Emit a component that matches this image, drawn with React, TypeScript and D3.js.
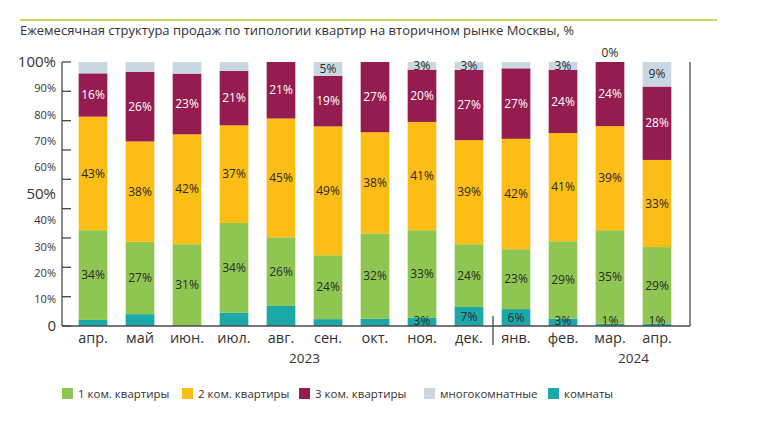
import React from 'react';
import * as d3 from 'd3';

const months = ['апр.', 'май', 'июн.', 'июл.', 'авг.', 'сен.', 'окт.', 'ноя.', 'дек.', 'янв.', 'фев.', 'мар.', 'апр.'];
const rooms = [2.3, 4.5, 0, 5, 7.6, 2.6, 2.7, 3.1, 7.2, 6.4, 2.8, 0.9, 0.9];
const oneRoom = [34, 27.4, 31, 34, 26, 24.2, 32.4, 33.2, 23.8, 22.7, 29.3, 35.4, 29];
const twoRoom = [43, 38, 41.6, 37, 45, 48.8, 38.3, 41, 39.4, 41.8, 41, 39.4, 33];
const threeRoom = [16.4, 26.4, 23, 20.6, 21.4, 19.2, 26.6, 19.8, 26.6, 26.7, 24, 24.3, 27.8];
const multiRoom = [4.3, 3.7, 4.4, 3.4, 0, 5.2, 0, 2.9, 3.0, 2.4, 2.9, 0, 9.3];
const roomsLabelled = [7, 8, 9, 10, 11, 12];
const multiLabelled = [5, 7, 8, 10, 11, 12];
const yTickLabels = [100, 90, 80, 70, 60, 50, 40, 30, 20, 10, 0];
const bigTickLabels = [100, 50, 0];
const years = [
  { label: '2023', a: 4, b: 5 },
  { label: '2024', a: 11, b: 12 },
];
const seriesKeys = ['rooms', 'one', 'two', 'three', 'multi'];
const seriesNames: Record<string, string> = {
  one: '1 ком. квартиры',
  two: '2 ком. квартиры',
  three: '3 ком. квартиры',
  multi: 'многокомнатные',
  rooms: 'комнаты',
};
const legendOrder = ['one', 'two', 'three', 'multi', 'rooms'];
const colors: Record<string, string> = {
  rooms: '#1ba8a8',
  one: '#8fc651',
  two: '#fbbd16',
  three: '#941c4e',
  multi: '#c9d7e3',
};

const FONT = "'Open Sans', sans-serif";

export default function App() {
  const data = months.map((m, i) => ({
    idx: i,
    month: m,
    rooms: rooms[i],
    one: oneRoom[i],
    two: twoRoom[i],
    three: threeRoom[i],
    multi: multiRoom[i],
  }));
  const stack = d3.stack<any>().keys(seriesKeys);
  const layers = stack(data);

  const x = d3
    .scaleBand<number>()
    .domain(d3.range(months.length))
    .range([69.5, 680.5])
    .paddingInner(0.39)
    .paddingOuter(0.195);
  const y = d3.scaleLinear().domain([0, 100]).range([326, 62]);

  const axisColor = '#4a4a4a';
  const tickFracs = d3.range(10).map((i) => 62 + (i * (326 - 62)) / 9);

  const showLabel = (key: string, i: number) => {
    if (key === 'rooms') return roomsLabelled.includes(i);
    if (key === 'multi') return multiLabelled.includes(i);
    return true;
  };

  return (
    <svg width={766} height={432} style={{ position: 'absolute', left: 0, top: 0, background: '#fff' }}>
      <line x1={20} x2={717} y1={20} y2={20} stroke="#c5da5c" strokeWidth={2} />
      <text x={20} y={35} fontFamily={FONT} fontSize={13} fill="#333">
        Ежемесячная структура продаж по типологии квартир на вторичном рынке Москвы, %
      </text>

      {layers.map((layer) => (
        <g key={layer.key}>
          {layer.map((d, i) => {
            const h = y(d[0]) - y(d[1]);
            if (h <= 0) return null;
            return (
              <rect
                key={i}
                x={x(i)}
                y={y(d[1])}
                width={x.bandwidth()}
                height={h}
                fill={colors[layer.key]}
              />
            );
          })}
        </g>
      ))}

      {layers.map((layer) => (
        <g key={'l' + layer.key}>
          {layer.map((d, i) => {
            if (!showLabel(layer.key, i)) return null;
            const v = d[1] - d[0];
            let cy = (y(d[0]) + y(d[1])) / 2;
            if (layer.key === 'rooms') cy = Math.min(cy, 321);
            if (v === 0) cy = y(100) - 9;
            const fill = layer.key === 'three' ? '#ffffff' : '#2a2a2a';
            return (
              <text
                key={i}
                x={(x(i) as number) + x.bandwidth() / 2}
                y={cy}
                dy="0.35em"
                textAnchor="middle"
                fontFamily={FONT}
                fontSize={12}
                fill={fill}
              >
                {Math.round(v)}%
              </text>
            );
          })}
        </g>
      ))}

      {/* axes */}
      <line x1={62} x2={62} y1={62} y2={326} stroke={axisColor} strokeWidth={1.3} />
      {tickFracs.map((ty, i) => (
        <line key={i} x1={62} x2={71} y1={ty} y2={ty} stroke={axisColor} strokeWidth={1.3} />
      ))}
      <line x1={62} x2={690} y1={326} y2={326} stroke={axisColor} strokeWidth={1.3} />
      <line x1={690} x2={690} y1={62} y2={326} stroke={axisColor} strokeWidth={1.3} />
      <line x1={493} x2={493} y1={316} y2={345} stroke={axisColor} strokeWidth={1.3} />

      {yTickLabels.map((v) => {
        const big = bigTickLabels.includes(v);
        return (
          <text
            key={v}
            x={56}
            y={y(v)}
            dy="0.35em"
            textAnchor="end"
            fontFamily={FONT}
            fontSize={big ? 15 : 11}
            fill="#333"
          >
            {v === 0 ? '0' : v + '%'}
          </text>
        );
      })}

      {months.map((m, i) => (
        <text
          key={i}
          x={(x(i) as number) + x.bandwidth() / 2}
          y={338}
          dy="0.35em"
          textAnchor="middle"
          fontFamily={FONT}
          fontSize={14.5}
          fill="#333"
        >
          {m}
        </text>
      ))}
      {years.map((yr) => (
        <text
          key={yr.label}
          x={((x(yr.a) as number) + (x(yr.b) as number)) / 2 + x.bandwidth() / 2}
          y={358}
          dy="0.35em"
          textAnchor="middle"
          fontFamily={FONT}
          fontSize={13.5}
          fill="#333"
        >
          {yr.label}
        </text>
      ))}

      {/* legend */}
      {legendOrder.map((k, i) => {
        const lx = [62, 182, 299, 424, 548][i];
        return (
          <g key={k} transform={`translate(${lx},388)`}>
            <rect x={0} y={0} width={11} height={11} fill={colors[k]} />
            <text x={16} y={5.5} dy="0.35em" fontFamily={FONT} fontSize={11.5} fill="#333">
              {seriesNames[k]}
            </text>
          </g>
        );
      })}
    </svg>
  );
}
